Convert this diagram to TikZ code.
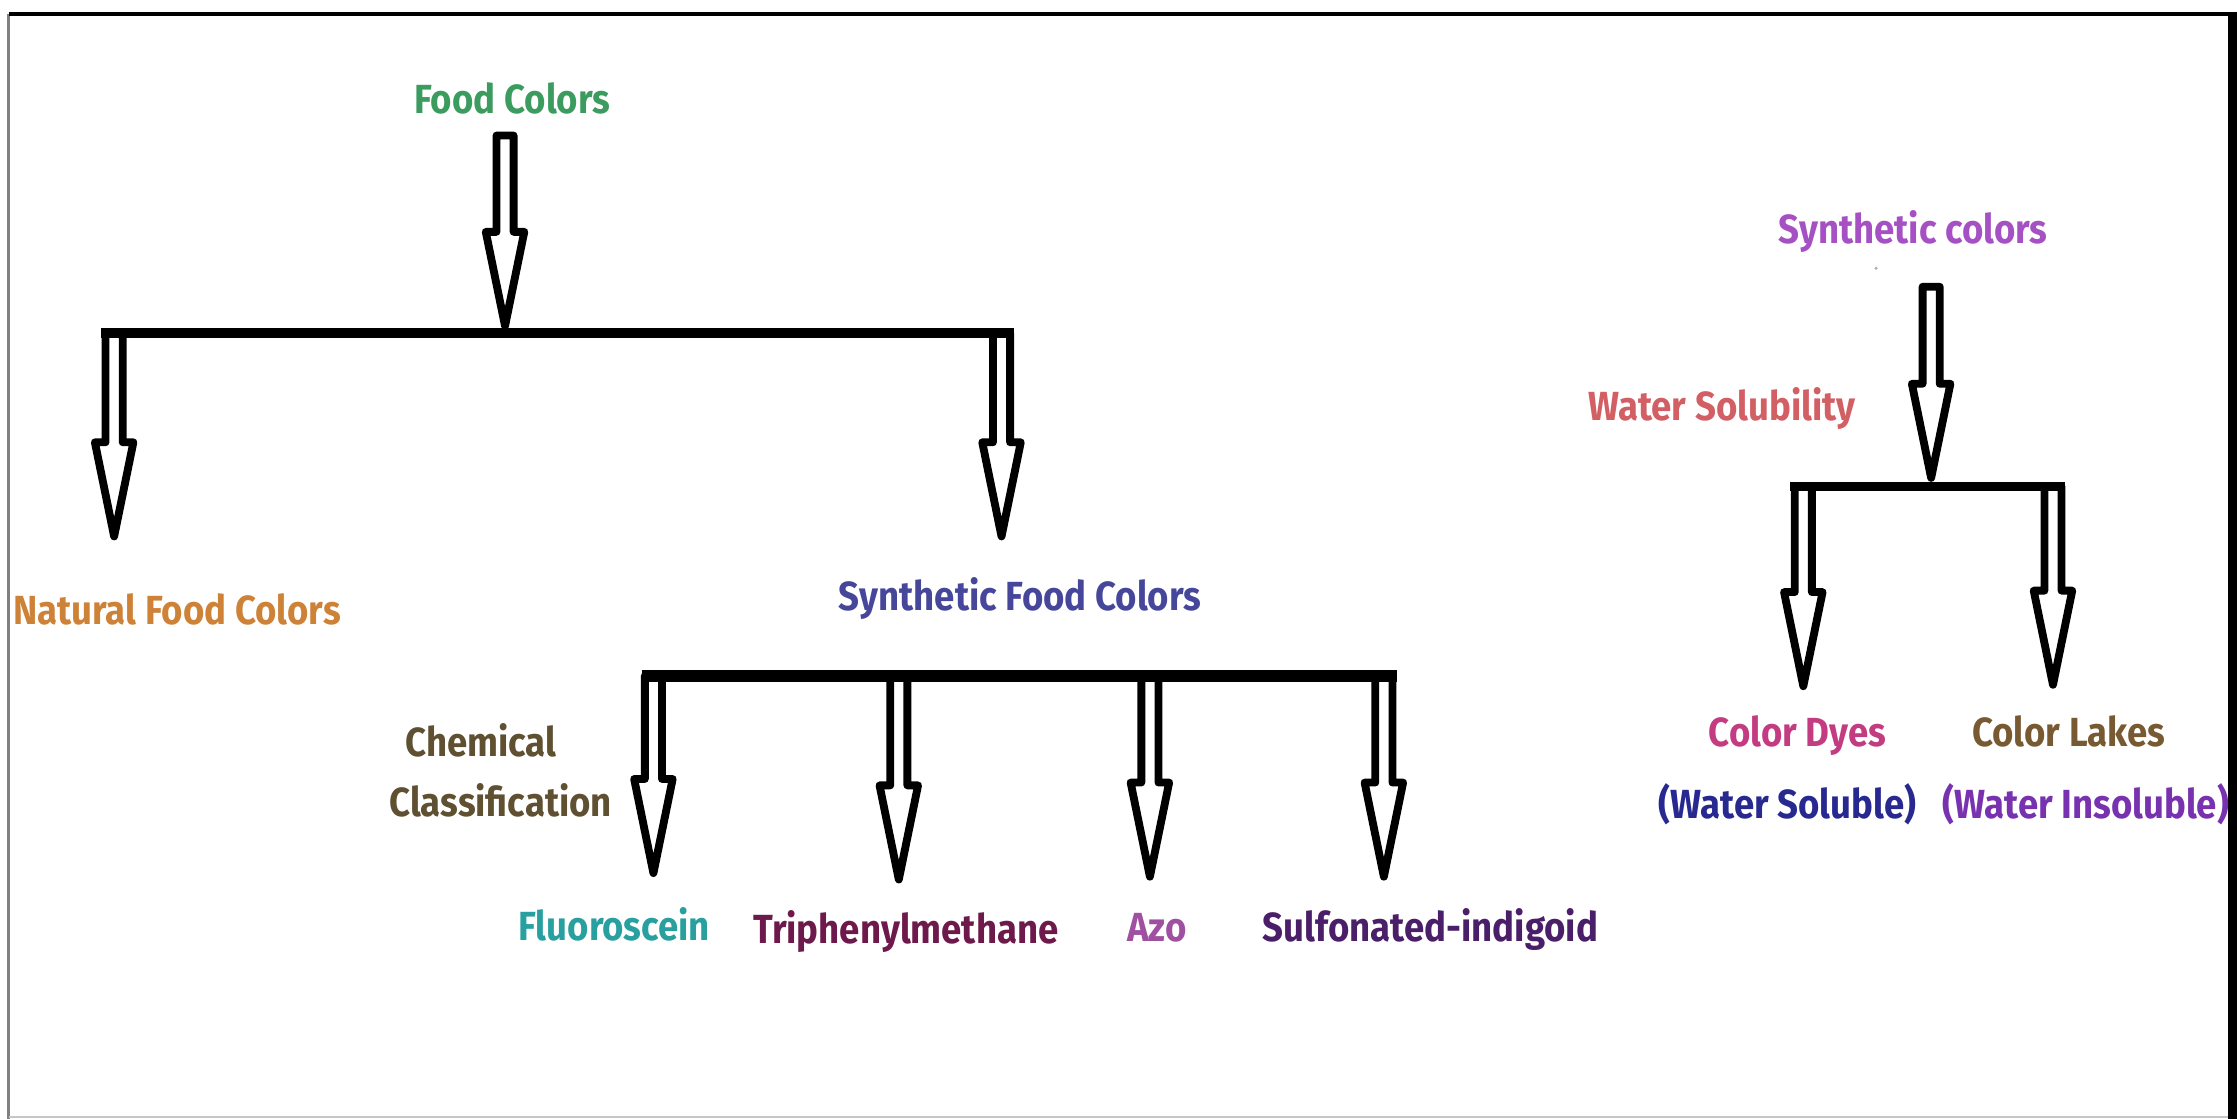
\documentclass[tikz,border=0pt]{standalone}
\usepackage{fontspec}
\setmainfont{Fira Sans}[FakeStretch=0.9]
\usetikzlibrary{calc}

% label colours
\definecolor{cFood}{RGB}{60,155,95}
\definecolor{cNatural}{RGB}{205,130,55}
\definecolor{cSynFood}{RGB}{70,70,155}
\definecolor{cChem}{RGB}{95,80,50}
\definecolor{cFluo}{RGB}{40,160,160}
\definecolor{cTri}{RGB}{110,25,75}
\definecolor{cAzo}{RGB}{160,80,160}
\definecolor{cSulf}{RGB}{75,30,105}
\definecolor{cSyn}{RGB}{165,80,195}
\definecolor{cWater}{RGB}{210,95,100}
\definecolor{cDyes}{RGB}{195,60,130}
\definecolor{cLakes}{RGB}{120,90,50}
\definecolor{cSol}{RGB}{40,40,145}
\definecolor{cInsol}{RGB}{120,50,175}

\tikzset{
  lbl/.style={anchor=base, inner sep=0pt, font=\fontsize{28.5}{32}\selectfont\bfseries},
  hollow/.style={draw=black, fill=white, line width=5.5pt, line join=round},
  barline/.style={draw=black, line width=7pt, line cap=butt},
}

% hollow block arrow pointing down from #1 to the tip #2 (same x)
\newcommand\hollowdown[2]{%
  \draw[hollow] let \p1=(#1), \p2=(#2) in
    (\x1-6pt,\y1) -- (\x1-6pt,\y2+66pt) -- (\x1-13.5pt,\y2+66pt) -- (\x1,\y2)
    -- (\x1+13.5pt,\y2+66pt) -- (\x1+6pt,\y2+66pt) -- (\x1+6pt,\y1) -- cycle;}

\begin{document}
\begin{tikzpicture}[x=1pt, y=-1pt]
\path[use as bounding box] (0,0) rectangle (1568,784);
\fill[white] (0,0) rectangle (1568,784);

% frame
\draw[gray, line width=1.5pt] (6,9.7) -- (6,784);
\draw[gray!45, line width=1pt] (6,783) -- (1562,783);
\draw[black, line width=3pt] (6,9.7) -- (1568,9.7);
\draw[black, line width=6.5pt] (1564.8,8.2) -- (1564.8,784);

% labels
\node[lbl, text=cFood]    (food)    at (359,79.4)  {Food Colors};
\node[lbl, text=cNatural] (natural) at (124,438)   {Natural Food Colors};
\node[lbl, text=cSynFood] (synfood) at (715,427.6) {Synthetic Food Colors};
\node[lbl, text=cChem]    (chem1)   at (337,530)   {Chemical};
\node[lbl, text=cChem]    (chem2)   at (351,572.4) {Classification};
\node[lbl, text=cFluo]    (fluo)    at (430.5,659) {Fluoroscein};
\node[lbl, text=cTri]     (tri)     at (635,661)   {Triphenylmethane};
\node[lbl, text=cAzo]     (azo)     at (811,660)   {Azo};
\node[lbl, text=cSulf]    (sulf)    at (1002.7,660){Sulfonated-indigoid};
\node[lbl, text=cSyn]     (syn)     at (1341,170.6){Synthetic colors};
\node[lbl, text=cWater]   (water)   at (1207,294.4){Water Solubility};
\node[lbl, text=cDyes]    (dyes)    at (1260,523.3){Color Dyes};
\node[lbl, text=cLakes]   (lakes)   at (1450,523.3){Color Lakes};
\node[lbl, text=cSol]     (sol)     at (1253,573.5){(Water Soluble)};
\node[lbl, text=cInsol]   (insol)   at (1462,573.5){(Water Insoluble)};
\fill[gray!60] (1315,188) circle (1.2);

% junction points
\coordinate (fc-out) at (354,95);
\coordinate (b1-mid) at (354,228.5);
\coordinate (b1-l)   at (71,233.5);
\coordinate (b1-r)   at (711,233.5);
\coordinate (b1-a)   at (80,233.5);
\coordinate (b1-b)   at (702,233.5);
\coordinate (nat-in) at (80,376);
\coordinate (syn-in) at (702,376);

\coordinate (b2-l) at (449.8,473.7);
\coordinate (b2-r) at (979.3,473.7);
\coordinate (b2-a) at (458,473.7);
\coordinate (b2-b) at (630,473.7);
\coordinate (b2-c) at (806,473.7);
\coordinate (b2-d) at (970,473.7);
\coordinate (fluo-in) at (458,612);
\coordinate (tri-in)  at (630,616.5);
\coordinate (azo-in)  at (806,614.5);
\coordinate (sulf-in) at (970,614.5);

\coordinate (sc-out) at (1353.6,201);
\coordinate (b3-mid) at (1353.6,335);
\coordinate (b3-l)   at (1255,341);
\coordinate (b3-r)   at (1447.5,341);
\coordinate (b3-a)   at (1264,341);
\coordinate (b3-b)   at (1439,341);
\coordinate (dyes-in)  at (1264,481);
\coordinate (lakes-in) at (1439,480);

% arrows
\hollowdown{fc-out}{b1-mid}
\hollowdown{b1-a}{nat-in}
\hollowdown{b1-b}{syn-in}
\hollowdown{b2-a}{fluo-in}
\hollowdown{b2-b}{tri-in}
\hollowdown{b2-c}{azo-in}
\hollowdown{b2-d}{sulf-in}
\hollowdown{sc-out}{b3-mid}
\hollowdown{b3-a}{dyes-in}
\hollowdown{b3-b}{lakes-in}

% branch bars
\draw[barline] (b1-l) -- (b1-r);
\draw[barline, line width=8pt] (b2-l) -- (b2-r);
\draw[barline] (b3-l) -- (b3-r);
\end{tikzpicture}
\end{document}
